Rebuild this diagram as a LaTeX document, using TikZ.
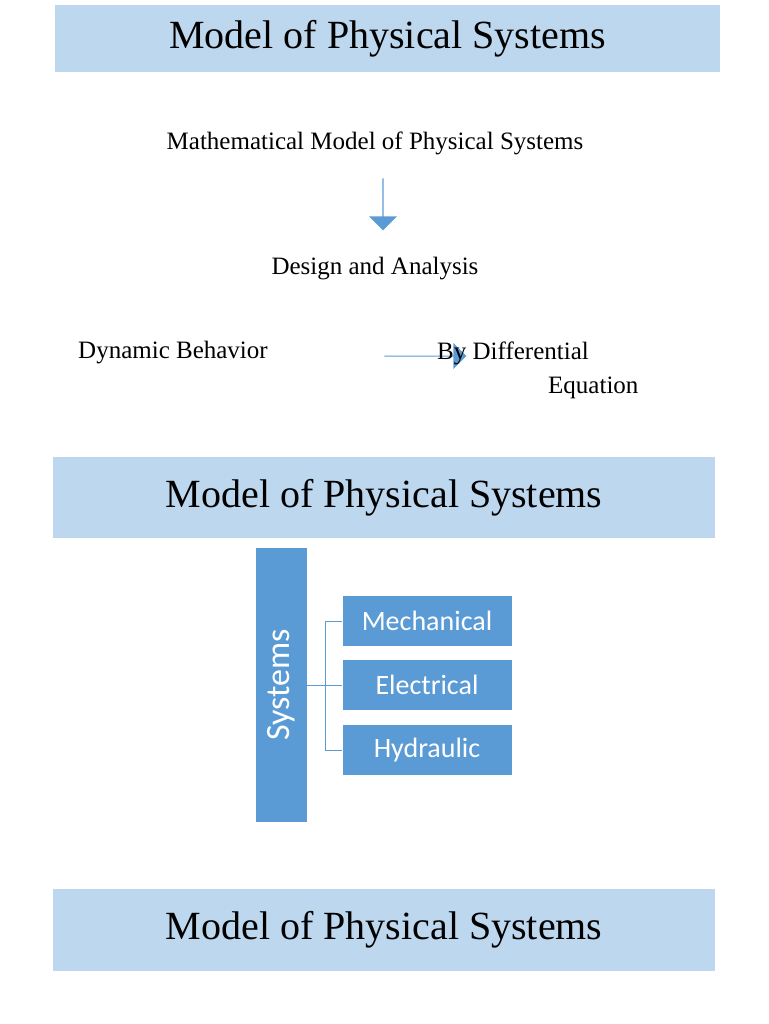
\documentclass[tikz,border=0pt]{standalone}
\usepackage{fontspec}
\setmainfont{Liberation Serif}
\newfontfamily\calibri{Carlito}
\usetikzlibrary{shapes.arrows}
\definecolor{bannerblue}{HTML}{BDD7EE}
\definecolor{boxblue}{HTML}{5B9BD5}
\tikzset{
  banner/.style={fill=bannerblue, draw=none, anchor=north west, inner sep=0pt, font=\fontsize{40}{40}\selectfont},
  plaintext/.style={font=\fontsize{25}{25}\selectfont, inner sep=0pt},
  subsys/.style={fill=boxblue, draw=white, line width=1pt, minimum width=170pt, minimum height=51pt, text=white, font=\calibri\fontsize{28}{28}\selectfont, inner sep=0pt},
  bigarrow/.style={single arrow, fill=boxblue, draw=none, inner sep=0pt, single arrow head extend=5pt}
}
\begin{document}
\begin{tikzpicture}[x=1pt, y=-1pt]
\useasboundingbox (0,0) rectangle (768,1024);

% banners
\node[banner, minimum width=665pt, minimum height=67pt] (title1) at (55,5) {Model of Physical Systems};
\node[banner, minimum width=662pt, minimum height=81pt] (title2) at (53,457) {Model of Physical Systems};
\node[banner, minimum width=662pt, minimum height=82pt] (title3) at (53,889) {Model of Physical Systems};

% first slide
\node[plaintext] (math) at (375,143) {Mathematical Model of Physical Systems};
\node[bigarrow, rotate=-90, minimum width=28pt, minimum height=52pt, single arrow head extend=4pt] (down) at (383,204) {};
\node[plaintext] (design) at (375,269) {Design and Analysis};
\node[plaintext, anchor=west] (dyn) at (78,353) {Dynamic Behavior};
\node[bigarrow, minimum width=26pt, minimum height=82pt] (right) at (425,356) {};
\node[plaintext, anchor=west] (diff) at (437,353) {By Differential};
\node[plaintext, anchor=west] (eq) at (548,388) {Equation};

% second slide
\node[fill=boxblue, minimum width=51pt, minimum height=274pt, inner sep=0pt] (sys) at (281.5,685) {};
\node[rotate=90, text=white, font=\calibri\fontsize{34}{34}\selectfont] (systxt) at (sys.center) {Systems};
\node[subsys] (mech) at (427,621) {Mechanical};
\node[subsys] (elec) at (427,685) {Electrical};
\node[subsys] (hyd) at (427,750) {Hydraulic};
\coordinate (hub) at (325,685);
\draw[boxblue, line width=0.7pt] (sys.east) -- (hub);
\foreach \b in {mech,elec,hyd}
  \draw[boxblue, line width=0.7pt] (hub) |- (\b.west);

\end{tikzpicture}
\end{document}
